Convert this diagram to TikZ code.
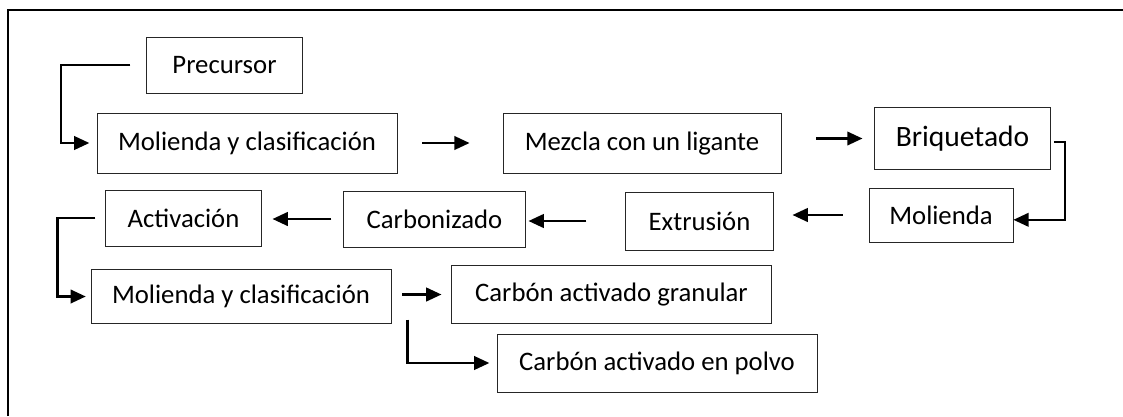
\documentclass[tikz,border=0pt]{standalone}
\usepackage{fontspec}
\setmainfont{Carlito}
\usetikzlibrary{arrows.meta}

\begin{document}
\begin{tikzpicture}[x=0.025cm, y=-0.025cm,
        caja/.style={draw=black!85, line width=0.6pt, inner sep=0pt, font=\fontsize{19}{23}\selectfont},
        flecha/.style={-{Triangle[length=0.38cm,width=0.34cm]}, line width=1.5pt}]
        \useasboundingbox (0,0) rectangle (1123,416);
        \draw [line width=1.8pt] (8,416) |- (1123,10);
        \node [caja, minimum width=3.88cm, minimum height=1.4cm] (prec) at (224.5,65) {Precursor};
        \node [caja, minimum width=7.5cm, minimum height=1.5cm] (mol1) at (247,143) {Molienda y clasificación};
        \node [caja, minimum width=6.95cm, minimum height=1.48cm] (mezcla) at (642,143.5) {Mezcla con un ligante};
        \node [caja, minimum width=4.38cm, minimum height=1.53cm, font=\fontsize{21}{25}\selectfont] (briq) at (962.5,138.5) {Briquetado};
        \node [caja, minimum width=3.6cm, minimum height=1.35cm] (mol) at (941,215) {Molienda};
        \node [caja, minimum width=3.68cm, minimum height=1.45cm] (extr) at (699.5,221) {Extrusión};
        \node [caja, minimum width=4.53cm, minimum height=1.4cm] (carb) at (434.5,219) {Carbonizado};
        \node [caja, minimum width=3.88cm, minimum height=1.4cm] (activ) at (183.5,218) {Activación};
        \node [caja, minimum width=7.5cm, minimum height=1.33cm] (mol2) at (241,296.5) {Molienda y clasificación};
        \node [caja, minimum width=7.98cm, minimum height=1.43cm] (cagran) at (611.5,294.5) {Carbón activado granular};
        \node [caja, minimum width=8cm, minimum height=1.45cm] (capolvo) at (657,363) {Carbón activado en polvo};

        \draw [flecha, shorten <=0.4cm, shorten >=0.18cm] (prec.west) -- ++(-2.125cm,0) |- (mol1.west);
        \draw [flecha, shorten <=0.625cm, shorten >=0.825cm] (mol1.east) -- (mol1.east -| mezcla.west);
        \draw [flecha, shorten <=0.875cm, shorten >=0.3cm] (mezcla.east |- briq.west) -- (briq.west);
        \draw [flecha] ([xshift=0.08cm, yshift=-0.09cm]briq.east) -- ++(0.28cm,0) |- ([yshift=-0.12cm]mol.east);
        \draw [flecha, shorten <=0.65cm, shorten >=0.475cm] (mol.west) -- (mol.west -| extr.east);
        \draw [flecha, shorten <=0.975cm, shorten >=0.075cm] (extr.west) -- (extr.west -| carb.east);
        \draw [flecha, shorten <=0.3cm, shorten >=0.275cm] (carb.west) -- (carb.west -| activ.east);
        \draw [flecha, shorten <=0.25cm, shorten >=0.12cm] (activ.west) -- ++(-1.2cm,0) |- (mol2.west);
        \draw [flecha, shorten <=0.275cm, shorten >=0.25cm] (mol2.east |- cagran.west) -- (cagran.west);
        \draw [flecha, shorten >=0.18cm] ([xshift=0.4cm, yshift=0.1cm]mol2.south east) |- (capolvo.west);
    \end{tikzpicture}
\end{document}
